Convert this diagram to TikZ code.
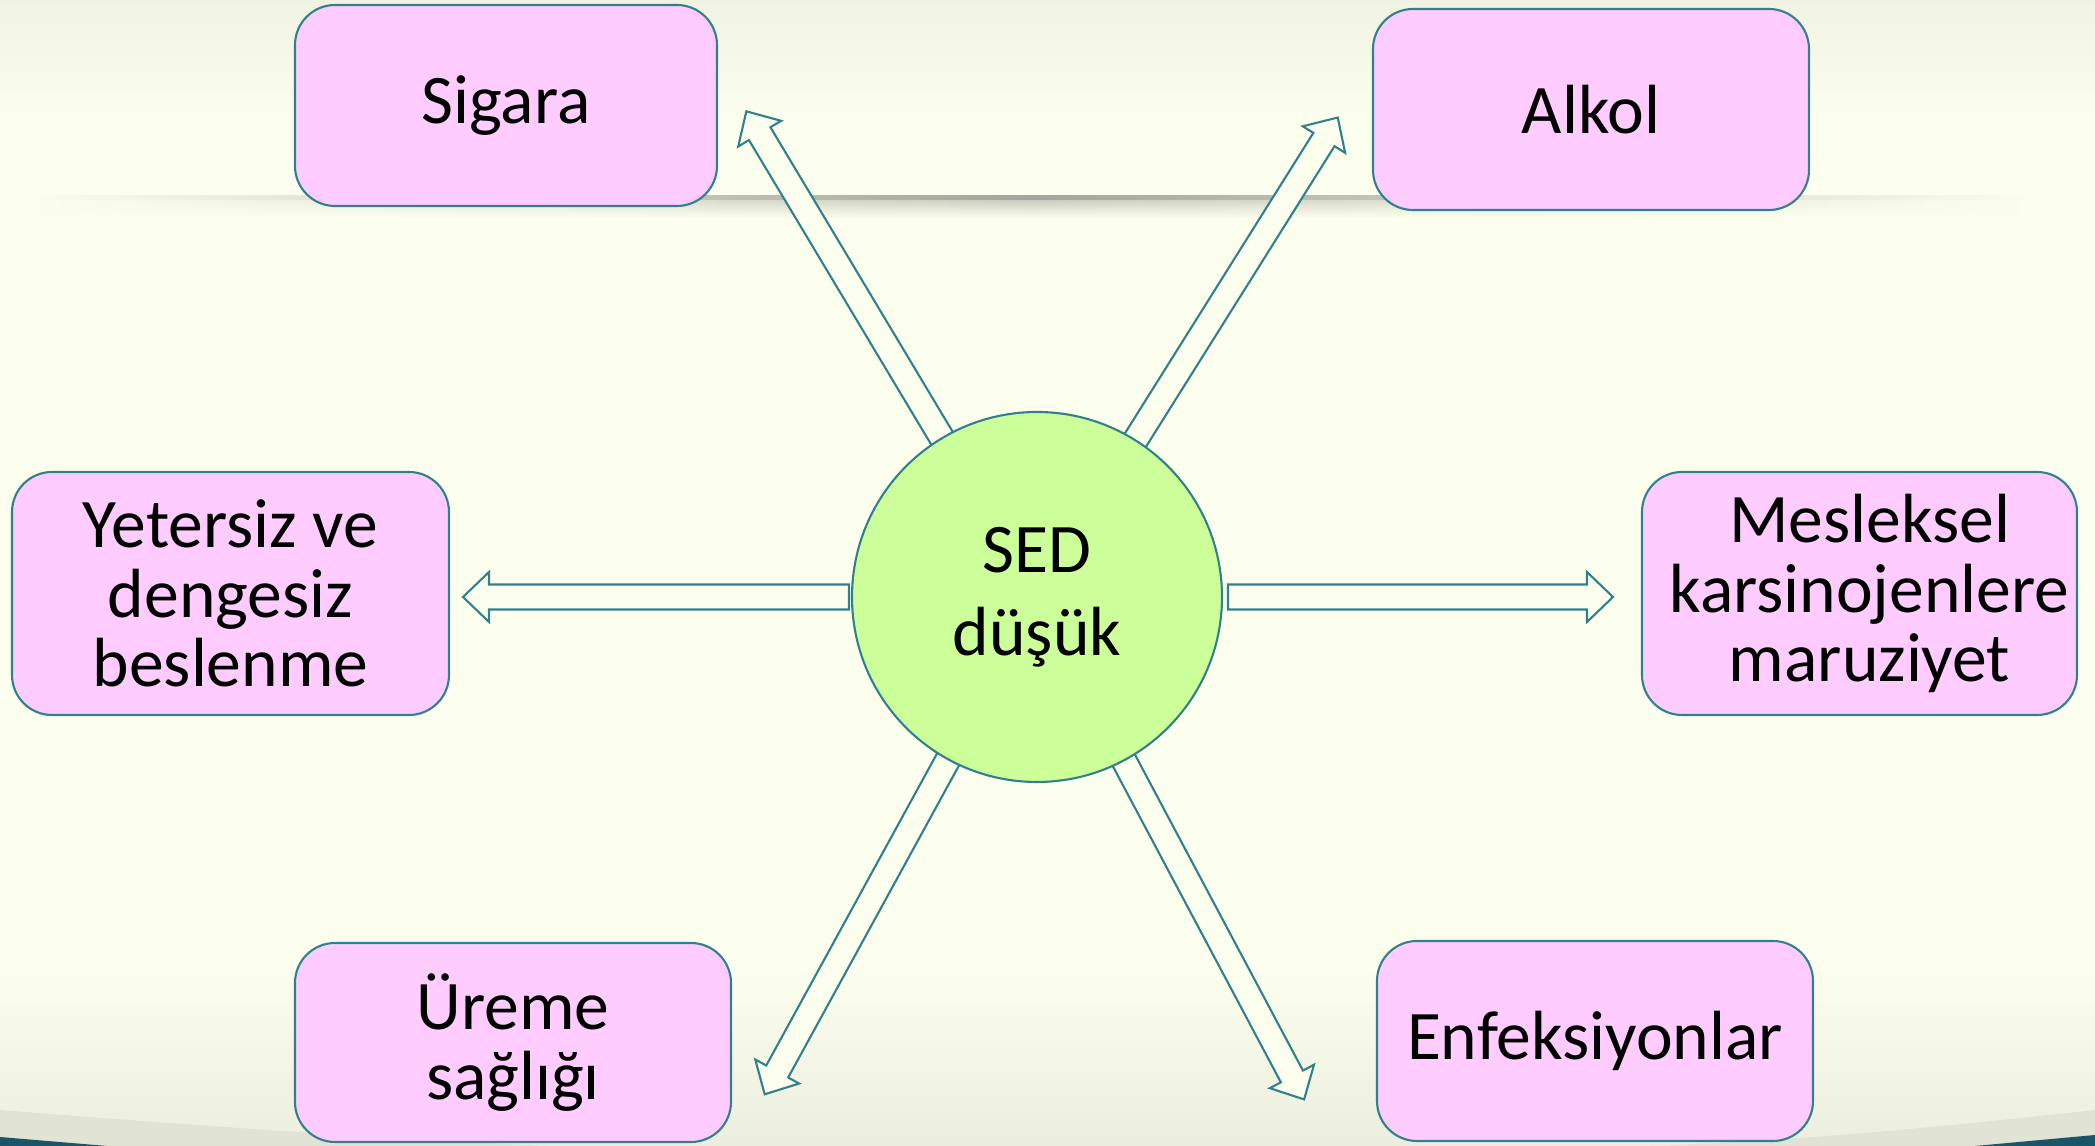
\documentclass[tikz,border=0pt]{standalone}
\usepackage{fontspec}
\setmainfont{Carlito}
\usetikzlibrary{backgrounds,fadings}
\definecolor{krem}{RGB}{253,255,238}
\definecolor{pembe}{RGB}{255,204,255}
\definecolor{yesil}{RGB}{204,255,153}
\definecolor{petrol}{RGB}{49,128,140}
\definecolor{koyu}{RGB}{26,84,104}
\tikzset{kutu/.style={draw=petrol, line width=0.6pt, fill=pembe, rounded corners=0.4cm,
    minimum width=4.36cm, minimum height=2cm, align=center, inner sep=0pt},
  okkutu/.style={draw=petrol, line width=0.6pt, fill=krem}}
\begin{document}
\begin{tikzpicture}[font=\fontsize{19.8}{19.8}\selectfont, line join=miter]
	\def\w{0.125}\def\W{0.25}\def\h{0.26}
	\useasboundingbox (0,0) rectangle (20.95,11.46);
	% merkez ve kutular
	\node[circle, draw=petrol, line width=0.6pt, fill=yesil, minimum size=3.7cm, inner sep=0pt,
		align=center, font=\fontsize{19.8}{23.5}\selectfont] (sed) at (10.37,5.49) {SED\\düşük};
	\node[kutu, minimum width=4.22cm, minimum height=2.01cm] (sigara) at (5.06,10.405) {Sigara};
	\node[kutu, minimum height=2.01cm] (alkol) at (15.91,10.365) {Alkol};
	\node[kutu, minimum width=4.37cm, minimum height=2.43cm] (beslenme) at (2.305,5.525) {Yetersiz ve\\dengesiz\\beslenme};
	\node[kutu, minimum width=4.35cm, minimum height=2.43cm] (meslek) at (18.595,5.525) {\hspace*{0.2cm}Mesleksel\\\hspace*{0.2cm}karsinojenlere\\\hspace*{0.2cm}maruziyet};
	\node[kutu, minimum height=1.99cm] (ureme) at (5.13,1.035) {Üreme\\sağlığı};
	\node[kutu] (enfeksiyon) at (15.95,1.05) {Enfeksiyonlar};
	\begin{scope}[on background layer]
		% zemin
		\fill[krem] (0,0) rectangle (20.95,11.46);
		\shade[top color=black!5!krem, bottom color=krem] (0,10.3) rectangle (20.95,11.46);
		\shade[top color=krem, bottom color=black!7!krem] (0,0) rectangle (20.95,1.8);
		\fill[black!11!krem] (0,0.36) .. controls (2,0.2) and (4,0.06) .. (5.5,0) -- (0,0) -- cycle;
		\fill[black!11!krem] (20.95,0.36) .. controls (19.5,0.2) and (18,0.05) .. (16.5,0) -- (20.95,0) -- cycle;
		\fill[koyu] (0,0) -- (0,0.09) -- (1.07,0) -- cycle;
		\fill[koyu] (20.95,0) -- (20.95,0.11) -- (19.75,0) -- cycle;
		\shade[left color=krem, right color=krem, middle color=black!22!krem, path fading=south] (0.3,9.48) rectangle (20.3,9.28);
		\shade[left color=krem, right color=krem, middle color=black!35!krem] (0.2,9.46) rectangle (20.4,9.5);
		% oklar
		\foreach \aci/\bas/\boy in {180/1.88/5.74, 0/1.91/5.76, 120.9/1.8/5.66, 57.9/1.8/5.66, 241.3/1.8/5.67, 298/1.8/5.69}
			\draw[okkutu, shift={(sed.center)}, rotate=\aci] (\bas,-\w) -- (\boy-\h,-\w) -- (\boy-\h,-\W) -- (\boy,0)
				-- (\boy-\h,\W) -- (\boy-\h,\w) -- (\bas,\w) -- cycle;
	\end{scope}
\end{tikzpicture}
\end{document}
